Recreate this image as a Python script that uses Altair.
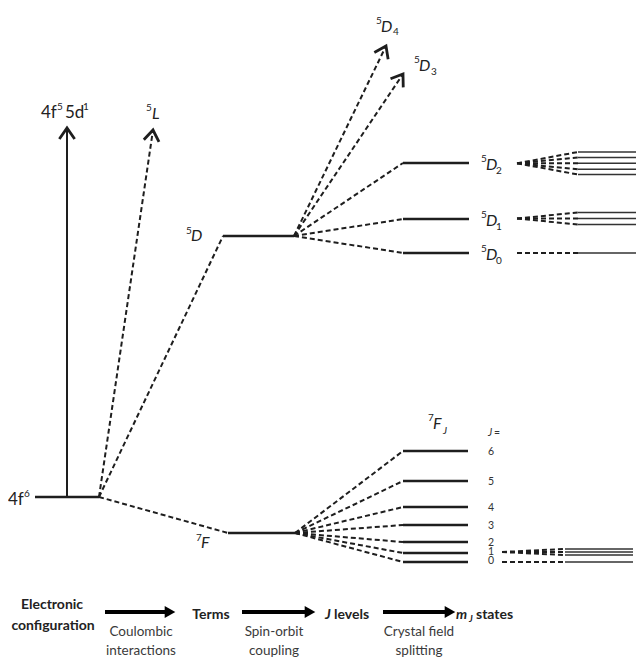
import math
import altair as alt
import pandas as pd

FONT = "Lato"
INK = "#1e1e1e"

# ---------------- data (diagram coordinates, y grows downward) ----------------
# solid horizontal energy levels: (x_start, x_end, y)
level_x1 = [35, 223, 228, 403, 403, 403, 403, 403, 403, 403, 403, 403, 403]
level_x2 = [99, 294, 295, 469, 469, 469, 468, 468, 468, 468, 468, 468, 468]
level_y = [497, 236, 533, 163, 219, 253, 451, 481, 507, 525, 542, 553, 562]

# thin m_J sub-level lines: (x_start, x_end, y)
mj_x1 = [578, 578, 578, 578, 578, 578, 578, 578, 578, 565, 565, 565, 565]
mj_x2 = [644, 644, 644, 644, 644, 644, 644, 644, 644, 633, 633, 633, 633]
mj_y = [152, 157.5, 163.3, 169.3, 174.5, 212.5, 218.5, 224.5, 253, 549, 552, 555, 562]

# dashed correlation lines: (x1, y1) -> (x2, y2)
dash_x1 = [99, 99, 99,
           294, 294, 294, 294, 294,
           295, 295, 295, 295, 295, 295, 295,
           517, 517, 517, 517, 517, 517, 517, 517, 517,
           502, 502, 502, 502]
dash_y1 = [497, 497, 497,
           236, 236, 236, 236, 236,
           533, 533, 533, 533, 533, 533, 533,
           163.3, 163.3, 163.3, 163.3, 163.3, 218.5, 218.5, 218.5, 253,
           552, 552, 552, 562]
dash_x2 = [153, 223, 228,
           386, 403, 403, 403, 403,
           403, 403, 403, 403, 403, 403, 403,
           578, 578, 578, 578, 578, 578, 578, 578, 578,
           565, 565, 565, 565]
dash_y2 = [130, 236, 533,
           46, 74, 163, 219, 253,
           451, 481, 507, 525, 542, 553, 562,
           152, 157.5, 163.3, 169.3, 174.5, 212.5, 218.5, 224.5, 253,
           549, 552, 555, 562]

# solid arrow 4f6 -> 4f5 5d1
solid_x1, solid_y1, solid_x2, solid_y2 = [67], [497], [67], [128]

# arrow heads (start x, start y, tip x, tip y)
arrow_sx = [67, 99, 294, 294]
arrow_sy = [497, 497, 236, 236]
arrow_tx = [67, 153, 386, 403]
arrow_ty = [128, 130, 46, 74]

# level / term labels as text pieces (text, left x, middle y, size, italic)
piece_text = ["4f", "6",
              "4f", "5", "5d", "1",
              "5", "L",
              "5", "D",
              "7", "F",
              "5", "D", "4",
              "5", "D", "3",
              "5", "D", "2",
              "5", "D", "1",
              "5", "D", "0",
              "7", "F", "J"]
piece_x = [8, 24,
           41, 57, 65, 83,
           146, 152,
           186, 191,
           196, 201,
           376, 381, 393,
           414, 419, 431,
           481, 486, 496,
           481, 486, 496,
           481, 486, 496,
           428, 433, 443]
piece_y = [500, 494,
           113, 107, 113, 107,
           108, 114,
           231, 236,
           538, 543,
           21, 27, 32,
           60, 66, 72,
           159, 165, 171,
           215, 221, 227,
           249, 255, 261,
           418, 424, 431]
piece_size = [17, 10,
              17, 10, 17, 10,
              10, 16,
              10, 16,
              10, 16,
              10, 16, 10,
              10, 16, 10,
              10, 16, 10,
              10, 16, 10,
              10, 16, 10,
              10, 16, 10]
piece_italic = [False, False,
                False, False, False, False,
                False, True,
                False, True,
                False, True,
                False, True, False,
                False, True, False,
                False, True, False,
                False, True, False,
                False, True, False,
                False, True, True]

# J values next to 7F_J levels
j_text = ["J", "=", "6", "5", "4", "3", "2", "1", "0"]
j_x = [488, 494, 488, 488, 488, 488, 488, 488, 488]
j_y = [433, 433, 452, 482, 508, 526, 543, 552, 561]
j_italic = [True, False, False, False, False, False, False, False, False]

# bottom process row (text, x, y, bold, italic, size, align)
bot_text = ["Electronic", "configuration", "Terms", "J", "levels", "m", "J", "states",
            "Coulombic", "interactions", "Spin-orbit", "coupling", "Crystal field", "splitting"]
bot_x = [52, 53, 211, 325, 334, 456, 469, 476, 141, 141, 274, 274, 419, 419]
bot_y = [605, 626, 615, 615, 615, 615, 619, 615, 632, 651, 632, 651, 632, 651]
bot_bold = [True] * 8 + [False] * 6
bot_italic = [False, False, False, True, False, True, True, False,
              False, False, False, False, False, False]
bot_size = [14, 14, 14, 14, 14, 14, 9, 14, 13.5, 13.5, 13.5, 13.5, 13.5, 13.5]
bot_align = ["center", "center", "center", "left", "left", "left", "left", "left",
             "center", "center", "center", "center", "center", "center"]

# bottom process arrows
proc_x1 = [105, 242, 383]
proc_x2 = [175, 315, 455]
proc_y = [612, 612, 612]

# ---------------- chart ----------------
W, H = 628, 649
xs = alt.Scale(domain=[8, 8 + W], range=[0, W])
ys = alt.Scale(domain=[8, 8 + H], reverse=True)


def X(f):
    return alt.X(f, type="quantitative", scale=xs, axis=None)


def Y(f):
    return alt.Y(f, type="quantitative", scale=ys, axis=None)


levels = pd.DataFrame({"x": level_x1, "x2": level_x2, "y": level_y})
lev = alt.Chart(levels).mark_rule(color=INK, strokeWidth=2.7).encode(
    x=X("x"), x2="x2", y=Y("y"))

mj = pd.DataFrame({"x": mj_x1, "x2": mj_x2, "y": mj_y})
mjl = alt.Chart(mj).mark_rule(color="#333", strokeWidth=1.4).encode(
    x=X("x"), x2="x2", y=Y("y"))

dash = pd.DataFrame({"x": dash_x1, "y": dash_y1, "x2": dash_x2, "y2": dash_y2})
dsh = alt.Chart(dash).mark_rule(color=INK, strokeWidth=2, strokeDash=[5, 3]).encode(
    x=X("x"), y=Y("y"), x2="x2", y2="y2")

sa = pd.DataFrame({"x": solid_x1, "y": solid_y1, "x2": solid_x2, "y2": solid_y2})
sol = alt.Chart(sa).mark_rule(color=INK, strokeWidth=2).encode(
    x=X("x"), y=Y("y"), x2="x2", y2="y2")

ang = [(math.degrees(math.atan2(tx - sx, -(ty - sy))) + 360) % 360
       for sx, sy, tx, ty in zip(arrow_sx, arrow_sy, arrow_tx, arrow_ty)]
heads = pd.DataFrame({"x": arrow_tx, "y": arrow_ty, "a": ang})
hd = alt.Chart(heads).mark_point(
    shape="M-0.7,1L0,0L0.7,1", size=480, filled=False, stroke=INK, strokeWidth=2.8,
    opacity=1).encode(
    x=X("x"), y=Y("y"), angle=alt.Angle("a:Q", scale=None))

layers = [dsh, sol, lev, mjl, hd]

pieces = pd.DataFrame({"t": piece_text, "x": piece_x, "y": piece_y,
                       "z": piece_size, "i": piece_italic})
for (z, it), sub in pieces.groupby(["z", "i"]):
    layers.append(alt.Chart(sub).mark_text(
        font=FONT, fontSize=float(z), color="#222", baseline="middle", align="left",
        fontStyle="italic" if it else "normal").encode(
        x=X("x"), y=Y("y"), text="t:N"))

jd = pd.DataFrame({"t": j_text, "x": j_x, "y": j_y, "i": j_italic})
for it, sub in jd.groupby("i"):
    layers.append(alt.Chart(sub).mark_text(
        font=FONT, fontSize=10.5, color="#333", baseline="middle", align="left",
        fontStyle="italic" if it else "normal").encode(x=X("x"), y=Y("y"), text="t:N"))

bd = pd.DataFrame({"t": bot_text, "x": bot_x, "y": bot_y, "b": bot_bold, "i": bot_italic,
                   "z": bot_size, "al": bot_align})
for (b, it, z, al), sub in bd.groupby(["b", "i", "z", "al"]):
    layers.append(alt.Chart(sub).mark_text(
        font=FONT, color="#222" if b else "#3a3a3a", baseline="middle", align=al,
        fontWeight="bold" if b else "normal", fontStyle="italic" if it else "normal",
        fontSize=float(z)).encode(x=X("x"), y=Y("y"), text="t:N"))

pa = pd.DataFrame({"x": proc_x1, "x2": [v - 8 for v in proc_x2], "y": proc_y,
                   "tip": [v - 5 for v in proc_x2]})
layers.append(alt.Chart(pa).mark_rule(color="#000", strokeWidth=4).encode(
    x=X("x"), x2="x2", y=Y("y")))
layers.append(alt.Chart(pa).mark_point(shape="triangle-right", size=150, filled=True,
                                       color="#000", opacity=1).encode(x=X("tip"), y=Y("y")))

chart = alt.layer(*layers).properties(
    width=W, height=H, padding=0, autosize=alt.AutoSizeParams(type="none")
).configure_view(stroke=None)

chart.save("out.html", embed_options={"renderer": "svg", "actions": False})
